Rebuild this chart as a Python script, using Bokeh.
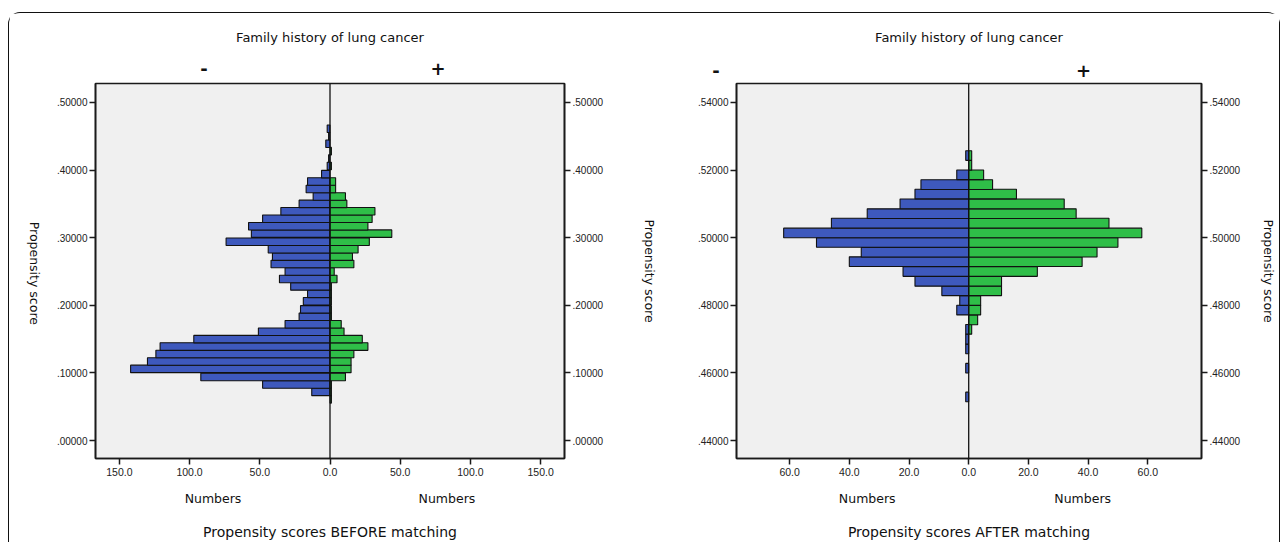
import math
from bokeh.plotting import figure
from bokeh.models import (Range1d, LinearAxis, FixedTicker, CustomJSTickFormatter,
                          Span, ColumnDataSource)
from bokeh.layouts import row
from bokeh.embed import file_html
from bokeh.resources import INLINE

# ---------------- data: BEFORE matching (bin centres, bottom -> top) ----------------
before_scores = [0.061, 0.072, 0.083, 0.094, 0.106, 0.117, 0.128, 0.139, 0.150, 0.161,
                 0.172, 0.183, 0.194, 0.206, 0.217, 0.228, 0.239, 0.250, 0.261, 0.272,
                 0.283, 0.294, 0.306, 0.317, 0.328, 0.339, 0.350, 0.361, 0.372, 0.383,
                 0.394, 0.406, 0.417, 0.428, 0.439, 0.450, 0.461]
before_neg = [0, 13, 48, 92, 142, 130, 124, 121, 97, 51, 32, 22, 21, 19, 16, 28, 36, 32,
              42, 41, 44, 74, 56, 58, 48, 35, 22, 12, 17, 16, 6, 2, 1, 0, 3, 1, 2]
before_pos = [1, 1, 1, 11, 15, 15, 17, 27, 23, 10, 8, 1, 1, 1, 1, 1, 5, 3,
              17, 16, 20, 28, 44, 27, 30, 32, 12, 11, 4, 4, 0, 1, 0, 1, 0, 0, 0]
before_binw = 0.0111

# ---------------- data: AFTER matching (bin centres, bottom -> top) ----------------
after_scores = [0.4529, 0.4557, 0.4586, 0.4614, 0.4643, 0.4671, 0.4700, 0.4729, 0.4757,
                0.4786, 0.4814, 0.4843, 0.4871, 0.4900, 0.4929, 0.4957, 0.4986, 0.5014,
                0.5043, 0.5071, 0.5100, 0.5129, 0.5157, 0.5186, 0.5214, 0.5243]
after_neg = [1, 0, 0, 1, 0, 1, 1, 1, 0, 4, 3, 9, 18, 22, 40, 36, 51, 62, 46, 34, 23, 18,
             16, 4, 0, 1]
after_pos = [0, 0, 0, 0, 0, 0, 0, 1, 3, 4, 4, 11, 11, 23, 38, 43, 50, 58, 47, 36, 32, 16,
             8, 5, 1, 1]
after_binw = 0.002857

before_xticks = [-150, -100, -50, 0, 50, 100, 150]
before_yticks = [0.0, 0.1, 0.2, 0.3, 0.4, 0.5]
after_xticks = [-60, -40, -20, 0, 20, 40, 60]
after_yticks = [0.44, 0.46, 0.48, 0.50, 0.52, 0.54]

group_title = "Family history of lung cancer"
axis_title = "Propensity score"
count_title = "Numbers"

BLUE = "#3e59bd"
GREEN = "#2fbe48"
INK = "#111111"
FONT = "DejaVu Sans"
TICKFONT = "Liberation Sans"


def panel(scores, neg, pos, binw, xlim, xticks, yrange, yticks, numbers_at,
          sign_at, minus_pad, bottom_title, left_label_at, width, mbl, mbr, right_standoff,
          sign_standoff, group_standoff):
    p = figure(width=width, height=529, x_range=Range1d(xlim[0], xlim[1]),
               y_range=Range1d(yrange[0], yrange[1]), output_backend="svg",
               toolbar_location=None, min_border_left=mbl, min_border_right=mbr,
               min_border_top=70, min_border_bottom=83,
               background_fill_color="#f0f0f0", border_fill_color="white",
               outline_line_color="#1a1a1a", outline_line_width=1.6)
    p.xgrid.visible = False
    p.ygrid.visible = False

    yfmt = "return tick.toFixed(5).replace(/^0/, '');"
    xfmt = "return Math.abs(tick).toFixed(1);"

    def style_axis(ax, size):
        ax.axis_line_color = "#1a1a1a"
        ax.axis_line_width = 1.6
        ax.major_tick_line_color = "#1a1a1a"
        ax.major_tick_line_width = 1.5
        ax.major_tick_out = 6
        ax.major_tick_in = 0
        ax.minor_tick_line_color = None
        ax.major_label_text_font = TICKFONT
        ax.major_label_text_font_size = size
        ax.major_label_text_color = "#222222"
        ax.major_label_standoff = 2
        ax.axis_label_text_font = FONT
        ax.axis_label_text_font_size = "12.5px"
        ax.axis_label_text_font_style = "normal"
        ax.axis_label_text_color = INK

    def bare_axis(ax):
        ax.axis_line_color = None
        ax.major_tick_line_color = None
        ax.minor_tick_line_color = None
        ax.major_tick_out = 0
        ax.major_tick_in = 0
        ax.axis_label_text_font = FONT
        ax.axis_label_text_font_style = "normal"
        ax.axis_label_text_color = INK
        ax.major_label_text_color = INK

    xa = p.xaxis[0]
    xa.ticker = FixedTicker(ticks=xticks)
    xa.formatter = CustomJSTickFormatter(code=xfmt)
    style_axis(xa, "10.5px")
    xa.major_label_standoff = 3

    ya = p.yaxis[0]
    ya.ticker = FixedTicker(ticks=yticks)
    ya.formatter = CustomJSTickFormatter(code=yfmt)
    style_axis(ya, "10px")

    if left_label_at is not None:
        # left title reading top-to-bottom, as in the reference
        la = LinearAxis(ticker=FixedTicker(ticks=[left_label_at]),
                        formatter=CustomJSTickFormatter(args=dict(t=axis_title), code="return t;"))
        bare_axis(la)
        la.major_label_text_font = FONT
        la.major_label_text_font_size = "12.5px"
        la.major_label_orientation = -math.pi / 2
        la.major_label_standoff = 19
        p.add_layout(la, "left")

    ra = LinearAxis(ticker=FixedTicker(ticks=yticks), formatter=CustomJSTickFormatter(code=yfmt))
    style_axis(ra, "10px")
    ra.axis_label = axis_title
    ra.axis_label_standoff = right_standoff
    p.add_layout(ra, "right")

    # "Numbers" labels + bottom caption
    na = LinearAxis(ticker=FixedTicker(ticks=numbers_at),
                    formatter=CustomJSTickFormatter(args=dict(t=count_title), code="return t;"))
    bare_axis(na)
    na.major_label_text_font = FONT
    na.major_label_text_font_size = "12.5px"
    na.major_label_standoff = 12
    na.axis_label = bottom_title
    na.axis_label_text_font_size = "14px"
    na.axis_label_standoff = 15
    p.add_layout(na, "below")

    # "-" / "+" group markers + group title on top
    sa = LinearAxis(ticker=FixedTicker(ticks=sign_at),
                    formatter=CustomJSTickFormatter(
                        args=dict(n=minus_pad),
                        code="return tick < 0 ? '-' + '\u00a0'.repeat(n) : '+';"))
    bare_axis(sa)
    sa.major_label_text_font = FONT
    sa.major_label_text_font_size = "18px"
    sa.major_label_text_font_style = "bold"
    sa.major_label_standoff = sign_standoff
    sa.axis_label = group_title
    sa.axis_label_text_font_size = "13px"
    sa.axis_label_standoff = group_standoff
    p.add_layout(sa, "above")

    nb = [(s, -v) for s, v in zip(scores, neg) if v > 0]
    pb = [(s, v) for s, v in zip(scores, pos) if v > 0]
    src_n = ColumnDataSource(dict(y=[a for a, _ in nb], v=[b for _, b in nb]))
    src_p = ColumnDataSource(dict(y=[a for a, _ in pb], v=[b for _, b in pb]))
    p.hbar(y="y", left="v", right=0, height=binw, source=src_n, fill_color=BLUE,
           line_color=INK, line_width=1.1)
    p.hbar(y="y", left=0, right="v", height=binw, source=src_p, fill_color=GREEN,
           line_color=INK, line_width=1.1)

    p.add_layout(Span(location=0, dimension="height", line_color=INK, line_width=1.3))
    return p


p1 = panel(before_scores, before_neg, before_pos, before_binw, (-167, 167), before_xticks,
           (-0.0265, 0.528), before_yticks, [-83.3, 83.3], [-89.7, 76.9], 0,
           "Propensity scores BEFORE matching", 0.171, 652, 86, 97, 36, 9, 14)
p2 = panel(after_scores, after_neg, after_pos, after_binw, (-77.8, 78.0), after_xticks,
           (0.4347, 0.5456), after_yticks, [-34, 38.2], [-70, 38.5], 14,
           "Propensity scores AFTER matching", None, 618, 75, 73, 18, 3, 12)

layout = row(p1, p2, styles={"border": "1.5px solid #111111", "border-bottom": "none",
                             "border-radius": "12px 12px 0 0", "margin": "12px 0 0 8px"})

open("out.html", "w").write(file_html(layout, INLINE))
